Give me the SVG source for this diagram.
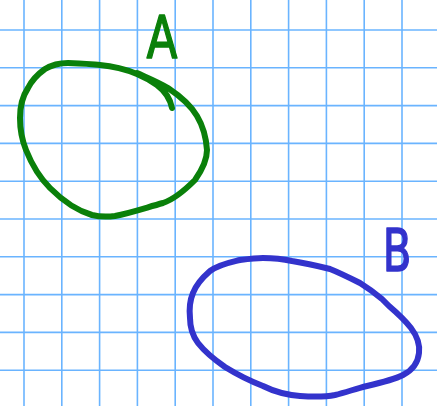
<svg xmlns="http://www.w3.org/2000/svg" width="437" height="406" viewBox="0 0 437 406">
<style>
.grid line{stroke:#6ab4ff;stroke-width:1.6}
.ink{fill:none;stroke-width:6;stroke-linecap:round;stroke-linejoin:round}
.g{stroke:#0a800a}
.b{stroke:#3333cc}
.lbl{font-family:"DejaVu Sans",sans-serif;font-size:58px;text-anchor:middle;stroke-width:1.5;stroke-linejoin:round}
</style>
<rect width="437" height="406" fill="#ffffff"/>
<g class="grid">
<line x1="24" y1="0" x2="24" y2="406"/>
<line x1="61.8" y1="0" x2="61.8" y2="406"/>
<line x1="99.6" y1="0" x2="99.6" y2="406"/>
<line x1="137.4" y1="0" x2="137.4" y2="406"/>
<line x1="175.2" y1="0" x2="175.2" y2="406"/>
<line x1="213" y1="0" x2="213" y2="406"/>
<line x1="250.8" y1="0" x2="250.8" y2="406"/>
<line x1="288.6" y1="0" x2="288.6" y2="406"/>
<line x1="326.4" y1="0" x2="326.4" y2="406"/>
<line x1="364.2" y1="0" x2="364.2" y2="406"/>
<line x1="402" y1="0" x2="402" y2="406"/>
<line x1="0" y1="30" x2="437" y2="30"/>
<line x1="0" y1="67.8" x2="437" y2="67.8"/>
<line x1="0" y1="105.6" x2="437" y2="105.6"/>
<line x1="0" y1="143.4" x2="437" y2="143.4"/>
<line x1="0" y1="181.2" x2="437" y2="181.2"/>
<line x1="0" y1="219" x2="437" y2="219"/>
<line x1="0" y1="256.8" x2="437" y2="256.8"/>
<line x1="0" y1="294.6" x2="437" y2="294.6"/>
<line x1="0" y1="332.4" x2="437" y2="332.4"/>
<line x1="0" y1="370.2" x2="437" y2="370.2"/>
</g>
<g id="shapeA">
<path class="ink g" d="M172,108 C170,98 165,91 157,85 C150,80 144,77 137,74 C125,69 112,66 100,65 C88,64 78,63 68,63 C58,63 50,66 45,69 C38,74 32,80 28,88 C22,97 20,108 20,118 C20,130 22,140 26,150 C32,165 40,178 50,188 C62,200 75,210 92,215 C100,217 107,217 115,216 C130,213 145,208 163,203 C175,199 185,190 195,180 C202,170 207,160 207,150 C206,136 203,126 197,116 C190,104 180,96 168,88 C158,82 148,78 137,73"/>
<text class="lbl" x="162" y="58" fill="#0a800a" stroke="#0a800a" transform="translate(162 0) scale(0.78 1) translate(-162 0)">A</text>
</g>
<g id="shapeB">
<path class="ink b" d="M263,258 C275,258 283,259 292,261 C305,263 318,266 330,269 C340,273 350,278 360,283 C368,288 375,293 382,299 L389,306 C396,312 404,319 411,328 C417,336 420,345 419,353 C418,362 413,370 403,375 C393,380 380,383 367,386 C355,389 347,392 335,395 C325,397 315,397 300,396 C288,395 275,392 263,386 C250,381 238,375 225,367 C215,360 205,352 198,343 C192,335 190,327 190,318 C189,308 190,300 193,293 C196,285 202,278 210,271 C220,264 232,262 240,260 C248,259 256,258 263,258"/>
<text class="lbl" x="397" y="271" fill="#3333cc" stroke="#3333cc" transform="translate(397 0) scale(0.72 1) translate(-397 0)">B</text>
</g>
</svg>
